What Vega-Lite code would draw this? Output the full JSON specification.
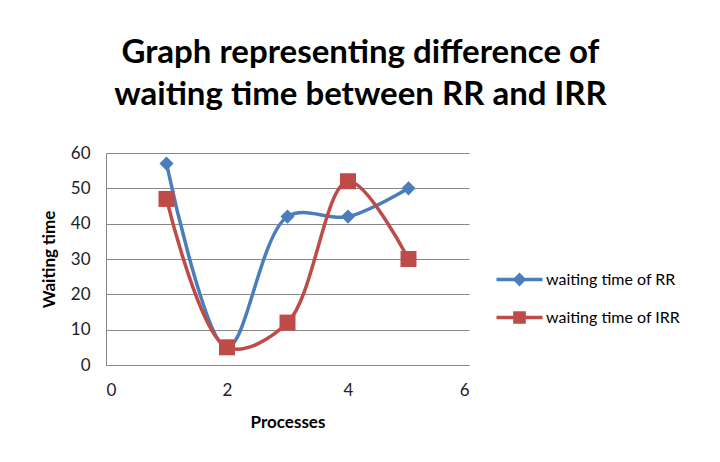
{
  "$schema": "https://vega.github.io/schema/vega-lite/v6.json",
  "autosize": {"type": "none"},
  "width": 363,
  "height": 212,
  "padding": {"left": 106, "top": 153, "right": 251, "bottom": 97},
  "background": "white",
  "title": {
    "text": ["Graph representing difference of", "waiting time between RR and IRR"],
    "font": "Lato",
    "fontSize": 33,
    "fontWeight": "bold",
    "color": "#000000",
    "anchor": "middle",
    "dx": 73,
    "offset": 32,
    "lineHeight": 42
  },
  "data": {
    "values": [
      {"process": 1, "wait": 57, "series": "waiting time of RR"},
      {"process": 2, "wait": 5, "series": "waiting time of RR"},
      {"process": 3, "wait": 42, "series": "waiting time of RR"},
      {"process": 4, "wait": 42, "series": "waiting time of RR"},
      {"process": 5, "wait": 50, "series": "waiting time of RR"},
      {"process": 1, "wait": 47, "series": "waiting time of IRR"},
      {"process": 2, "wait": 5, "series": "waiting time of IRR"},
      {"process": 3, "wait": 12, "series": "waiting time of IRR"},
      {"process": 4, "wait": 52, "series": "waiting time of IRR"},
      {"process": 5, "wait": 30, "series": "waiting time of IRR"}
    ]
  },
  "encoding": {
    "x": {
      "field": "process", "type": "quantitative",
      "scale": {"domain": [0, 6], "nice": false},
      "axis": {"values": [0, 2, 4, 6], "title": "Processes", "grid": false, "ticks": false,
               "domain": true, "domainColor": "#888888", "labelFontSize": 17, "labelPadding": 17,
               "titleFontSize": 17, "titlePadding": 16, "labelFont": "Lato", "titleFont": "Lato",
               "labelColor": "#222222", "titleColor": "#000000", "titleFontWeight": "bold"}
    },
    "y": {
      "field": "wait", "type": "quantitative",
      "scale": {"domain": [0, 60], "nice": false},
      "axis": {"values": [0, 10, 20, 30, 40, 50, 60], "title": "Waiting time", "grid": true,
               "gridColor": "#888888", "ticks": false, "domain": true, "domainColor": "#888888",
               "labelFontSize": 17, "labelPadding": 16, "titleFontSize": 17, "titlePadding": 12,
               "labelFont": "Lato", "titleFont": "Lato", "labelColor": "#222222",
               "titleColor": "#000000", "titleFontWeight": "bold"}
    },
    "color": {
      "field": "series", "type": "nominal",
      "sort": ["waiting time of RR", "waiting time of IRR"],
      "scale": {"domain": ["waiting time of RR", "waiting time of IRR"], "range": ["#4A7EBB", "#BE4B48"]},
      "legend": {
        "title": null,
        "orient": "none",
        "legendX": 402,
        "legendY": 115,
        "symbolType": "square",
        "symbolSize": 529,
        "symbolStrokeWidth": 0,
        "labelFont": "Lato",
        "labelFontSize": 16,
        "labelColor": "#000000",
        "labelOffset": 15,
        "rowPadding": 18,
        "encode": {
          "symbols": {
            "update": {
              "shape": {"signal": "datum.value === 'waiting time of RR' ? 'M-2,-0.15L-0.45,-0.15L0,-0.6L0.45,-0.15L2,-0.15L2,0.15L0.45,0.15L0,0.6L-0.45,0.15L-2,0.15Z' : 'M-2,-0.15L-0.55,-0.15L-0.55,-0.55L0.55,-0.55L0.55,-0.15L2,-0.15L2,0.15L0.55,0.15L0.55,0.55L-0.55,0.55L-0.55,0.15L-2,0.15Z'"},
              "size": {"value": 529},
              "fill": {"signal": "datum.value === 'waiting time of RR' ? '#4A7EBB' : '#BE4B48'"},
              "fillOpacity": {"value": 1},
              "strokeWidth": {"value": 0}
            }
          }
        }
      }
    }
  },
  "layer": [
    {
      "mark": {"type": "line", "interpolate": "catmull-rom", "strokeWidth": 3.5}
    },
    {
      "mark": {"type": "point", "filled": true, "opacity": 1},
      "encoding": {
        "shape": {
          "condition": {"test": "datum.series === 'waiting time of RR'", "value": "diamond"},
          "value": "square"
        },
        "size": {
          "condition": {"test": "datum.series === 'waiting time of RR'", "value": 200},
          "value": 256
        }
      }
    }
  ],
  "config": {
    "view": {"stroke": null}
  }
}
